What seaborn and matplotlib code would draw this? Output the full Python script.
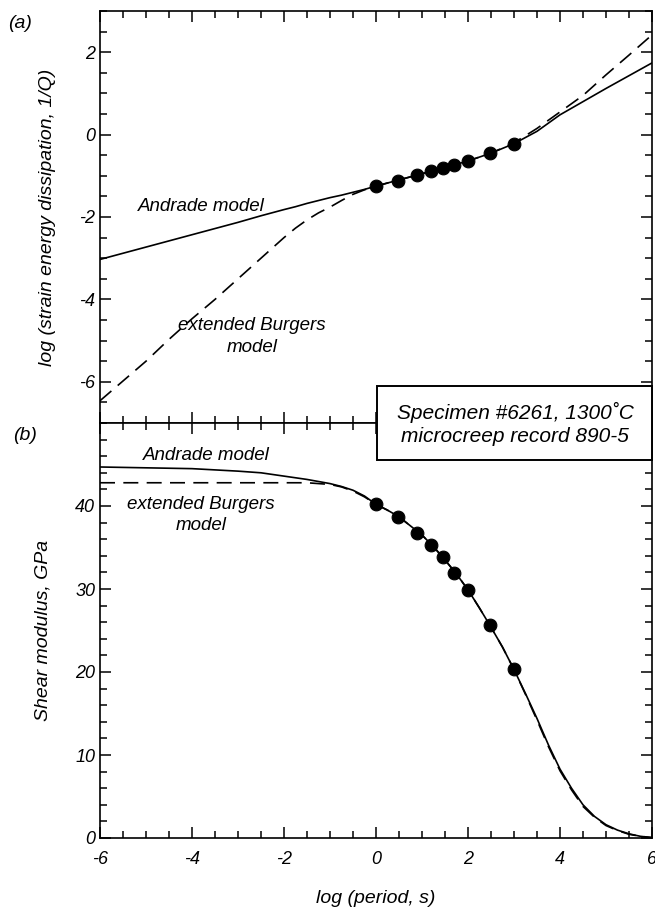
import numpy as np
import pandas as pd
import matplotlib
matplotlib.use("Agg")
import matplotlib.pyplot as plt
from matplotlib.patches import Rectangle
from matplotlib.ticker import MultipleLocator
import seaborn as sns

# ---------------- data ----------------
# measured points
log_period = [0.0, 0.48, 0.9, 1.2, 1.45, 1.7, 2.0, 2.48, 3.0]
log_q_obs = [-1.25, -1.12, -0.97, -0.88, -0.81, -0.74, -0.65, -0.45, -0.22]
modulus_obs = [40.2, 38.7, 36.7, 35.3, 33.8, 31.9, 29.9, 25.7, 20.4]

# model curves, panel (a)
qa_x = [-6, -5.5, -5, -4.5, -4, -3.5, -3, -2.5, -2, -1.75, -1.5, -1.25, -1,
        -0.75, -0.5, -0.25, 0, 0.5, 1, 1.5, 2, 2.5, 3, 3.5, 4, 4.5, 5, 5.5, 6]
andrade_q = [-3.03, -2.88, -2.73, -2.58, -2.43, -2.28, -2.13, -1.97, -1.82, -1.75,
             -1.67, -1.60, -1.53, -1.47, -1.40, -1.33, -1.25, -1.10, -0.95,
             -0.80, -0.64, -0.45, -0.22, 0.08, 0.48, 0.80, 1.12, 1.43, 1.74]
burgers_q = [-6.46, -5.98, -5.50, -4.97, -4.47, -4.00, -3.50, -3.00, -2.50, -2.27,
             -2.07, -1.90, -1.76, -1.60, -1.45, -1.34, -1.25, -1.10, -0.95,
             -0.80, -0.64, -0.45, -0.20, 0.15, 0.55, 0.95, 1.45, 1.93, 2.42]

# model curves, panel (b)
gb_x = [-6, -5, -4, -3, -2.5, -2, -1.5, -1, -0.75, -0.5, -0.25, 0, 0.25, 0.5,
        0.75, 1, 1.25, 1.5, 1.75, 2, 2.25, 2.5, 2.75, 3, 3.25, 3.5, 3.75, 4,
        4.25, 4.5, 4.75, 5, 5.25, 5.5, 5.75, 6]
andrade_g = [44.7, 44.6, 44.5, 44.2, 44.0, 43.6, 43.2, 42.7, 42.35, 41.9, 41.2,
             40.2, 39.5, 38.7, 37.6, 36.5, 35.1, 33.5, 31.8, 29.9, 27.7, 25.4,
             23.0, 20.3, 17.4, 14.4, 11.2, 8.3, 6.0, 4.0, 2.6, 1.6, 0.95, 0.5,
             0.2, 0.05]
burgers_g = [42.8, 42.8, 42.8, 42.8, 42.8, 42.8, 42.8, 42.6, 42.3, 41.8, 41.1,
             40.2, 39.5, 38.7, 37.6, 36.5, 35.1, 33.5, 31.8, 29.9, 27.7, 25.4,
             23.0, 20.3, 17.3, 14.2, 11.0, 8.1, 5.8, 3.8, 2.5, 1.5, 0.9, 0.45,
             0.2, 0.05]

x_ticks = [-6, -4, -2, 0, 2, 4, 6]
q_ticks = [-6, -4, -2, 0, 2]
g_ticks = [0, 10, 20, 30, 40]

# ---------------- style ----------------
sns.set_style("ticks")
plt.rcParams['font.family'] = ['Liberation Sans', 'DejaVu Sans']
plt.rcParams['font.style'] = 'italic'
plt.rcParams['axes.linewidth'] = 1.2
plt.rcParams['axes.unicode_minus'] = False
for k in ('text.color', 'axes.labelcolor', 'xtick.color', 'ytick.color',
          'axes.edgecolor'):
    plt.rcParams[k] = 'black'

fig = plt.figure(figsize=(6.55, 9.09), dpi=100)
L, R = 100 / 655, 652 / 655
top_a, mid, bot_b = 1 - 11 / 909, 1 - 423 / 909, 1 - 838 / 909
ax1 = fig.add_axes([L, mid, R - L, top_a - mid])
ax2 = fig.add_axes([L, bot_b, R - L, mid - bot_b], sharex=ax1)

dfa = pd.DataFrame({"x": qa_x, "aq": andrade_q, "bq": burgers_q})
dfb = pd.DataFrame({"x": gb_x, "ag": andrade_g, "bg": burgers_g})
obs = pd.DataFrame({"x": log_period, "q": log_q_obs, "g": modulus_obs})

# panel (a)
sns.lineplot(data=dfa, x="x", y="aq", ax=ax1, color="black", lw=1.2)
sns.lineplot(data=dfa, x="x", y="bq", ax=ax1, color="black", lw=1.2,
             linestyle=(0, (9, 5)))
sns.scatterplot(data=obs, x="x", y="q", ax=ax1, color="black", s=85,
                edgecolor="black", zorder=5)

# panel (b)
sns.lineplot(data=dfb, x="x", y="ag", ax=ax2, color="black", lw=1.2)
sns.lineplot(data=dfb, x="x", y="bg", ax=ax2, color="black", lw=1.2,
             linestyle=(0, (9, 5)))
sns.scatterplot(data=obs, x="x", y="g", ax=ax2, color="black", s=85,
                edgecolor="black", zorder=5)

for ax in (ax1, ax2):
    ax.set_xlim(-6, 6)
    ax.xaxis.set_minor_locator(MultipleLocator(0.5))
    ax.tick_params(which="both", direction="in", top=True, right=True,
                   labelsize=13, width=1.1)
    ax.tick_params(which="major", length=8)
    ax.tick_params(which="minor", length=5)

ax1.set_ylim(-7, 3)
ax1.set_yticks(q_ticks)
ax1.yaxis.set_minor_locator(MultipleLocator(0.5))
ax1.tick_params(labelbottom=False)
ax1.set_xlabel("")
ax1.set_ylabel("log (strain energy dissipation, 1/Q)", fontsize=14, labelpad=17)

ax2.set_ylim(0, 50)
ax2.set_yticks(g_ticks)
ax2.yaxis.set_minor_locator(MultipleLocator(2))
ax2.set_xticks(x_ticks)
ax2.set_xlabel("log (period, s)", fontsize=14, labelpad=16)
ax2.set_ylabel("Shear modulus, GPa", fontsize=14, labelpad=17)
ax2.tick_params(axis="x", pad=9)

# annotations
ax1.text(-3.8, -1.75, "Andrade model", fontsize=13.5, ha="center", va="center")
ax1.text(-2.7, -4.9, "extended Burgers\nmodel", fontsize=13.5, ha="center",
         va="center", linespacing=1.35)
ax2.text(-3.7, 46.1, "Andrade model", fontsize=13.5, ha="center", va="center")
ax2.text(-3.8, 38.9, "extended Burgers\nmodel", fontsize=13.5, ha="center",
         va="center", linespacing=1.35)

fig.text(20 / 655, 1 - 23 / 909, "(a)", fontsize=14, ha="center", va="center")
fig.text(25 / 655, 1 - 436 / 909, "(b)", fontsize=14, ha="center", va="center")

box = Rectangle((377 / 655, 1 - 460 / 909), (652 - 377) / 655, (460 - 386) / 909,
                transform=fig.transFigure, facecolor="white", edgecolor="black",
                lw=1.4, zorder=10)
fig.add_artist(box)
fig.text(515 / 655, 1 - 412 / 909, "Specimen #6261, 1300˚C", fontsize=15,
         ha="center", va="center", zorder=11)
fig.text(515 / 655, 1 - 436 / 909, "microcreep record 890-5", fontsize=15,
         ha="center", va="center", zorder=11)

fig.savefig("out.png", dpi=100)
